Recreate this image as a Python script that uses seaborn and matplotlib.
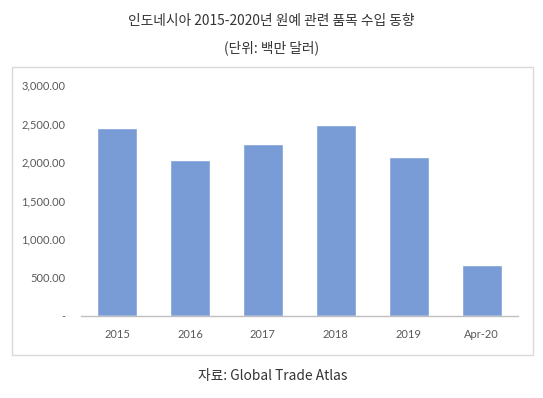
import matplotlib
matplotlib.use("Agg")
import matplotlib.pyplot as plt
import matplotlib.patches as patches
from matplotlib.ticker import FuncFormatter
import seaborn as sns
import pandas as pd

categories = ["2015", "2016", "2017", "2018", "2019", "Apr-20"]
values = [2440, 2020, 2240, 2485, 2060, 660]
yticks = [0, 500, 1000, 1500, 2000, 2500, 3000]

title = "인도네시아 2015-2020년 원예 관련 품목 수입 동향"
subtitle = "(단위: 백만 달러)"
source = "자료: Global Trade Atlas"

sns.set_theme(style="white")
plt.rcParams['font.family'] = ['Noto Sans CJK KR', 'DejaVu Sans']

df = pd.DataFrame({"cat": categories, "val": values})

fig = plt.figure(figsize=(5.43, 3.98), dpi=100)
W, H = 543, 398
ax = fig.add_axes([80.7 / W, 1 - 316 / H, (518 - 80.7) / W, (316 - 85) / H])

sns.barplot(data=df, x="cat", y="val", color="#7A9CD6", saturation=1,
            width=0.55, ax=ax)

ax.set_ylim(0, 3000)
ax.set_yticks(yticks)
ax.yaxis.set_major_formatter(FuncFormatter(lambda v, p: "-" if v == 0 else f"{v:,.2f}"))
ax.set_xlabel("")
ax.set_ylabel("")
for s in ["top", "right", "left"]:
    ax.spines[s].set_visible(False)
ax.spines["bottom"].set_color("#BFBFBF")
ax.spines["bottom"].set_linewidth(1.0)
ax.tick_params(axis="both", length=0, colors="#595959")
ax.tick_params(axis="y", pad=11)
ax.tick_params(axis="x", pad=9)
for lab in ax.get_xticklabels() + ax.get_yticklabels():
    lab.set_fontfamily(["Lato", "DejaVu Sans"])
    lab.set_fontsize(8.0)
    lab.set_color("#595959")

# chart border
rect = patches.Rectangle((12 / W, 1 - 355 / H), (533 - 12) / W, (355 - 67) / H,
                         transform=fig.transFigure, fill=False,
                         edgecolor="#D9D9D9", linewidth=1.0)
fig.patches.append(rect)

fig.text(0.5, 1 - 21 / H, title, ha="center", va="center", fontsize=9.9, color="#333333")
fig.text(0.5, 1 - 48 / H, subtitle, ha="center", va="center", fontsize=9.9, color="#333333")
fig.text(272.5 / W, 1 - 376 / H, source, ha="center", va="center", fontsize=9.9, color="#333333")

fig.savefig("out.png", dpi=100)
